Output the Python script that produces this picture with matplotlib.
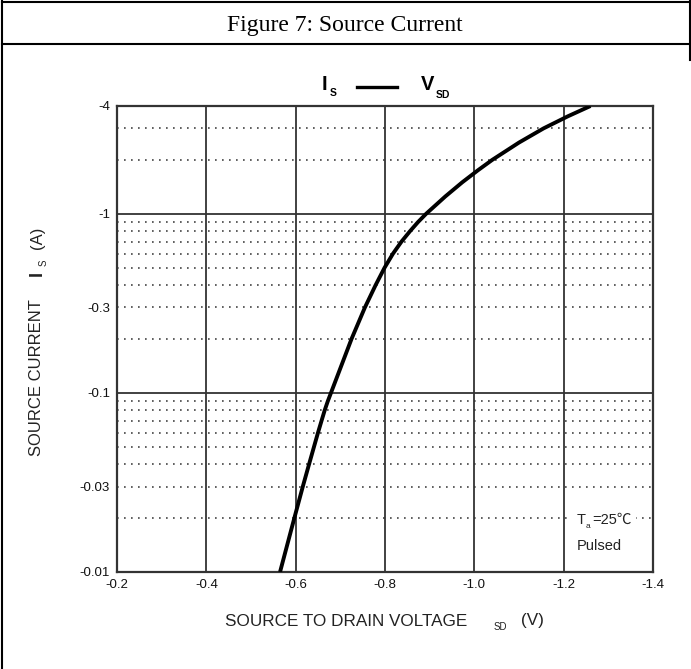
import matplotlib
matplotlib.use("Agg")
import matplotlib.pyplot as plt
from matplotlib.lines import Line2D
from matplotlib.patches import Rectangle

# ---- data (magnitudes; labels shown negative) ----
vsd = [0.565, 0.597, 0.616, 0.630, 0.641, 0.650, 0.658, 0.665, 0.672, 0.679,
       0.725, 0.755, 0.779, 0.799, 0.818, 0.837, 0.856, 0.874, 0.892,
       0.935, 0.973, 1.008, 1.040, 1.100, 1.155, 1.209, 1.260]
i_s = [0.01, 0.02, 0.03, 0.04, 0.05, 0.06, 0.07, 0.08, 0.09, 0.1,
       0.2, 0.3, 0.4, 0.5, 0.6, 0.7, 0.8, 0.9, 1.0,
       1.25, 1.5, 1.75, 2.0, 2.5, 3.0, 3.5, 4.0]

x_ticks = [0.2, 0.4, 0.6, 0.8, 1.0, 1.2, 1.4]
x_tick_labels = ["-0.2", "-0.4", "-0.6", "-0.8", "-1.0", "-1.2", "-1.4"]
y_ticks = [4, 1, 0.3, 0.1, 0.03, 0.01]
y_tick_labels = ["-4", "-1", "-0.3", "-0.1", "-0.03", "-0.01"]
y_solid = [1, 0.1]
y_dotted = [3, 2, 0.9, 0.8, 0.7, 0.6, 0.5, 0.4, 0.3, 0.2,
            0.09, 0.08, 0.07, 0.06, 0.05, 0.04, 0.03, 0.02]
x_solid = [0.4, 0.6, 0.8, 1.0, 1.2]

W, H = 691, 669
fig = plt.figure(figsize=(W / 100, H / 100), dpi=100)

def fx(px): return px / W
def fy(py): return 1 - py / H

# frame / title box
fig.add_artist(Line2D([fx(2), fx(2)], [fy(0), fy(669)], color="black", lw=1.5))
fig.add_artist(Line2D([fx(689.5), fx(689.5)], [fy(0), fy(60)], color="black", lw=1.5))
fig.add_artist(Line2D([fx(2), fx(689.5)], [fy(1.5), fy(1.5)], color="black", lw=1.5))
fig.add_artist(Line2D([fx(2), fx(689.5)], [fy(44), fy(44)], color="black", lw=1.5))
fig.text(fx(345), fy(25), "Figure 7: Source Current", ha="center", va="center",
         fontsize=17, family="Liberation Serif")

ax = fig.add_axes([117 / W, 1 - 572 / H, (653 - 117) / W, (572 - 106) / H])
ax.set_yscale("log")
ax.set_xlim(0.2, 1.4)
ax.set_ylim(0.01, 4)

for y in y_dotted:
    ax.axhline(y, color="#444444", lw=1.2, ls=(0, (1, 3.2)), zorder=1)
for y in y_solid:
    ax.axhline(y, color="#333333", lw=1.3, zorder=1)
for x in x_solid:
    ax.axvline(x, color="#333333", lw=1.3, zorder=1)

ax.plot(vsd, i_s, color="black", lw=2.8, zorder=3, solid_capstyle="butt")

ax.set_xticks(x_ticks)
ax.set_xticklabels(x_tick_labels)
ax.set_yticks(y_ticks)
ax.set_yticklabels(y_tick_labels)
ax.yaxis.set_minor_locator(matplotlib.ticker.NullLocator())
ax.tick_params(length=0, labelsize=9.5, pad=5, colors="#111111")
for lab in ax.get_xticklabels() + ax.get_yticklabels():
    lab.set_family("Liberation Sans")
for s in ax.spines.values():
    s.set_linewidth(1.6)
    s.set_color("#333333")

# header  I_S —— V_SD
fig.text(fx(322), fy(85), "I", fontsize=14.5, ha="left", va="center",
         family="Liberation Sans", fontweight="bold")
fig.text(fx(330), fy(93), "S", fontsize=7.5, ha="left", va="center",
         family="Liberation Sans", fontweight="bold")
fig.add_artist(Line2D([fx(357), fx(397)], [fy(87), fy(87)], color="black", lw=2.4))
fig.text(fx(421), fy(85), "V", fontsize=14.5, ha="left", va="center",
         family="Liberation Sans", fontweight="bold")
fig.text(fx(436), fy(95), "SD", fontsize=7.5, ha="left", va="center",
         family="Liberation Sans", fontweight="bold")

# y label
fig.text(fx(37), fy(378), "SOURCE CURRENT", rotation=90, fontsize=12, ha="center",
         va="center", family="Liberation Sans", color="#222222")
fig.text(fx(37), fy(274), "I", rotation=90, fontsize=13, ha="center", va="center",
         family="Liberation Sans", fontweight="bold", color="#222222")
fig.text(fx(44), fy(263), "S", rotation=90, fontsize=7, ha="center", va="center",
         family="Liberation Sans", color="#222222")
fig.text(fx(37), fy(238), "(A)", rotation=90, fontsize=12, ha="center", va="center",
         family="Liberation Sans", color="#222222")

# x label
fig.text(fx(225), fy(621), "SOURCE TO DRAIN VOLTAGE", fontsize=12.3, ha="left",
         va="center", family="Liberation Sans", color="#222222")
fig.text(fx(500), fy(627), "SD", fontsize=7, ha="center", va="center",
         family="Liberation Sans", color="#222222")
fig.text(fx(532), fy(621), "(V)", fontsize=12.3, ha="center", va="center",
         family="Liberation Sans", color="#222222")

# annotation (white backing breaks the dotted line, as in the reference)
fig.add_artist(Rectangle((fx(572), fy(532)), fx(636) - fx(572), fy(508) - fy(532),
                         transform=fig.transFigure, facecolor="white",
                         edgecolor="none", zorder=1))
fig.text(fx(577), fy(520), "T", fontsize=10.5, ha="left", va="center",
         family="Liberation Sans", color="#222222", zorder=3)
fig.text(fx(585.5), fy(527), "a", fontsize=6, ha="left", va="center",
         family="Liberation Sans", color="#222222", zorder=3)
fig.text(fx(592), fy(520), "=25\u2103", fontsize=10.5, ha="left", va="center",
         family=["Liberation Sans", "Noto Sans CJK SC"], color="#222222", zorder=3)
fig.text(fx(577), fy(546), "Pulsed", fontsize=10.5, ha="left", va="center",
         family="Liberation Sans", color="#222222", zorder=3)

fig.savefig("out.png", dpi=100, facecolor="white")
